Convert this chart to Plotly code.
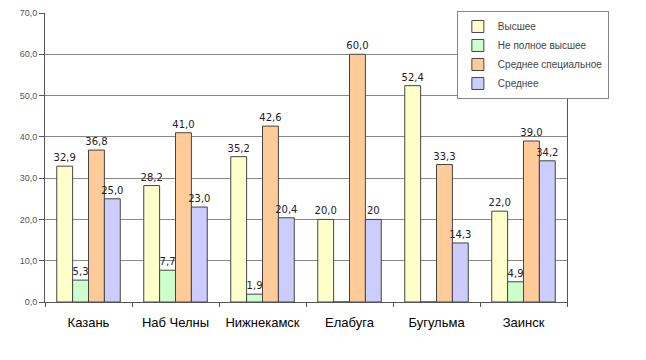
import plotly.graph_objects as go

categories = ["Казань", "Наб Челны", "Нижнекамск", "Елабуга", "Бугульма", "Заинск"]
series_names = ["Высшее", "Не полное высшее", "Среднее специальное", "Среднее"]
vysshee = [32.9, 28.2, 35.2, 20.0, 52.4, 22.0]
ne_polnoe = [5.3, 7.7, 1.9, 0.0, 0.0, 4.9]
srednee_spec = [36.8, 41.0, 42.6, 60.0, 33.3, 39.0]
srednee = [25.0, 23.0, 20.4, 20.0, 14.3, 34.2]
srednee_labels = ["25,0", "23,0", "20,4", "20", "14,3", "34,2"]
colors = ["#FFFFCC", "#CCFFCC", "#FFCC99", "#CCCCFF"]


def fmt(vals):
    return ["" if v == 0 else f"{v:.1f}".replace(".", ",") for v in vals]


series = [vysshee, ne_polnoe, srednee_spec, srednee]
texts = [fmt(vysshee), fmt(ne_polnoe), fmt(srednee_spec), srednee_labels]

fig = go.Figure()
for name, vals, txt, col in zip(series_names, series, texts, colors):
    fig.add_trace(go.Bar(
        x=categories, y=vals, name=name, text=txt,
        textposition="outside", cliponaxis=False,
        textfont=dict(family="DejaVu Sans", size=10, color="#222222"),
        marker=dict(color=col, line=dict(color="#444444", width=1)),
    ))

fig.update_layout(
    width=646, height=360,
    margin=dict(l=37, r=87, t=5, b=66, autoexpand=False),
    paper_bgcolor="white", plot_bgcolor="white",
    barmode="group", bargap=0.27, bargroupgap=0,
    separators=", ",
    uniformtext=dict(minsize=10, mode="show"),
    showlegend=True,
    legend=dict(
        x=0.789, y=1.007, xanchor="left", yanchor="top",
        bgcolor="white", bordercolor="#888888", borderwidth=1,
        font=dict(family="Liberation Sans", size=10, color="#444444"),
        itemwidth=30, tracegroupgap=0,
    ),
    font=dict(family="Liberation Sans"),
)
fig.update_xaxes(
    showline=True, linecolor="#555555", linewidth=1,
    ticks="outside", tickson="boundaries", ticklen=4, tickcolor="#555555",
    ticklabelstandoff=8,
    tickfont=dict(family="Liberation Sans", size=13, color="black"),
    showgrid=False,
)
fig.update_yaxes(
    range=[0, 70], dtick=10, tickformat=".1f",
    showline=True, linecolor="#555555", linewidth=1, mirror=True,
    ticks="outside", ticklen=5, tickcolor="#555555",
    showgrid=True, gridcolor="#888888", gridwidth=1,
    tickfont=dict(family="Liberation Sans", size=9, color="#555555"),
    zeroline=False,
)

fig.write_html("out.html")
